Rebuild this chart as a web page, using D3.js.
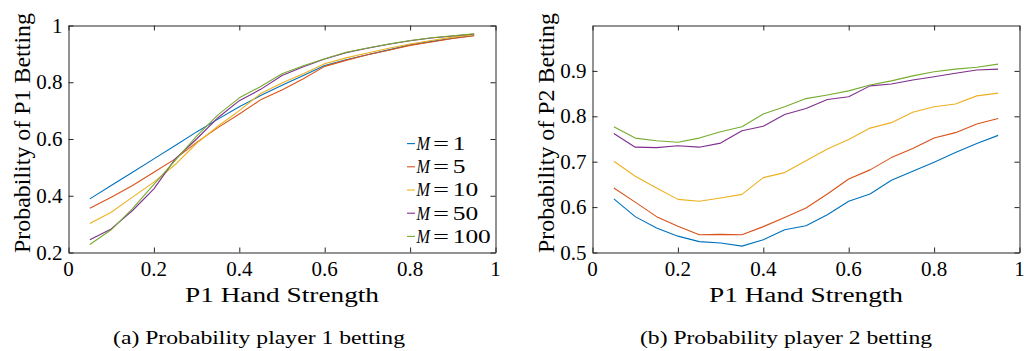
<!DOCTYPE html>
<html><head><meta charset="utf-8"><script src="https://cdn.jsdelivr.net/npm/d3@7"></script></head>
<body style="margin:0">
<svg id="chart" width="1024" height="351"></svg>
<script>
// ---------------- data ----------------
const handStrength = [0.05, 0.10, 0.15, 0.20, 0.25, 0.30, 0.35, 0.40, 0.45, 0.50,
                      0.55, 0.60, 0.65, 0.70, 0.75, 0.80, 0.85, 0.90, 0.95];

const seriesNames = ["1", "5", "10", "50", "100"];
const seriesColors = ["#0072BD", "#D95319", "#EDB120", "#7E2F8E", "#77AC30"];

// (a) Probability of P1 betting
const p1M1   = [0.389, 0.436, 0.483, 0.530, 0.577, 0.625, 0.670, 0.714, 0.753, 0.789, 0.824, 0.859, 0.879, 0.897, 0.914, 0.932, 0.944, 0.955, 0.965];
const p1M5   = [0.356, 0.395, 0.436, 0.483, 0.530, 0.588, 0.640, 0.688, 0.738, 0.773, 0.812, 0.856, 0.877, 0.897, 0.913, 0.930, 0.942, 0.954, 0.964];
const p1M10  = [0.302, 0.342, 0.395, 0.448, 0.510, 0.585, 0.645, 0.700, 0.760, 0.797, 0.830, 0.865, 0.886, 0.903, 0.920, 0.935, 0.947, 0.959, 0.968];
const p1M50  = [0.245, 0.283, 0.348, 0.424, 0.530, 0.600, 0.675, 0.735, 0.775, 0.824, 0.855, 0.882, 0.904, 0.920, 0.934, 0.946, 0.956, 0.963, 0.970];
const p1M100 = [0.228, 0.280, 0.355, 0.440, 0.525, 0.610, 0.685, 0.745, 0.785, 0.830, 0.858, 0.883, 0.906, 0.921, 0.935, 0.947, 0.957, 0.964, 0.971];

// (b) Probability of P2 betting
const p2M1   = [0.618, 0.579, 0.554, 0.536, 0.524, 0.521, 0.514, 0.528, 0.550, 0.559, 0.583, 0.613, 0.629, 0.659, 0.679, 0.699, 0.720, 0.740, 0.758];
const p2M5   = [0.642, 0.611, 0.579, 0.558, 0.539, 0.540, 0.539, 0.557, 0.577, 0.598, 0.629, 0.662, 0.682, 0.709, 0.729, 0.752, 0.764, 0.783, 0.795];
const p2M10  = [0.701, 0.668, 0.642, 0.617, 0.613, 0.620, 0.628, 0.665, 0.676, 0.702, 0.728, 0.749, 0.774, 0.786, 0.809, 0.821, 0.827, 0.845, 0.851];
const p2M50  = [0.762, 0.732, 0.731, 0.735, 0.732, 0.741, 0.768, 0.778, 0.804, 0.817, 0.837, 0.843, 0.867, 0.871, 0.880, 0.887, 0.895, 0.902, 0.904];
const p2M100 = [0.777, 0.752, 0.746, 0.743, 0.752, 0.766, 0.777, 0.805, 0.821, 0.839, 0.847, 0.856, 0.869, 0.878, 0.889, 0.898, 0.904, 0.908, 0.915];

const xTickValues = [0, 0.2, 0.4, 0.6, 0.8, 1];
const xTickLabels = ["0", "0.2", "0.4", "0.6", "0.8", "1"];
const yTickValuesA = [0.2, 0.4, 0.6, 0.8, 1];
const yTickLabelsA = ["0.2", "0.4", "0.6", "0.8", "1"];
const yTickValuesB = [0.5, 0.6, 0.7, 0.8, 0.9];
const yTickLabelsB = ["0.5", "0.6", "0.7", "0.8", "0.9"];

const xLabelText = "P1 Hand Strength";
const yLabelA = "Probability of P1 Betting";
const yLabelB = "Probability of P2 Betting";
const captionA = "(a) Probability player 1 betting";
const captionB = "(b) Probability player 2 betting";

// ---------------- drawing ----------------
const svg = d3.select("#chart");
const AXIS = "#262626";

// every text is appended straight to the svg root, like a plain label
function label(str, size, x, y, anchor) {
  return svg.append("text")
    .style("font-family", '"Times New Roman"')
    .style("font-size", size + "px")
    .attr("x", x).attr("y", y)
    .attr("text-anchor", anchor)
    .attr("fill", "#000")
    .text(str);
}

function panel(opts) {
  const x = d3.scaleLinear().domain([0, 1]).range([opts.left, opts.right]);
  const y = d3.scaleLinear().domain(opts.yDomain).range([opts.bottom, opts.top]);
  const g = svg.append("g");

  const line = d3.line().x((d, i) => x(handStrength[i])).y(d => y(d));
  opts.series.forEach((s, k) => {
    g.append("path").datum(s)
      .attr("fill", "none")
      .attr("stroke", seriesColors[k])
      .attr("stroke-width", 1.1)
      .attr("stroke-linejoin", "round")
      .attr("d", line);
  });

  const tick = 5;
  const styleAxis = sel => {
    sel.select(".domain").attr("stroke", AXIS).attr("stroke-width", 1);
    sel.selectAll(".tick line").attr("stroke", AXIS).attr("stroke-width", 1);
    sel.selectAll("text").remove();
  };

  g.append("g").attr("transform", `translate(0,${opts.bottom})`)
    .call(d3.axisBottom(x).tickValues(xTickValues).tickSizeInner(-tick).tickSizeOuter(0)).call(styleAxis);
  g.append("g").attr("transform", `translate(0,${opts.top})`)
    .call(d3.axisTop(x).tickValues(xTickValues).tickSizeInner(-tick).tickSizeOuter(0)).call(styleAxis);
  g.append("g").attr("transform", `translate(${opts.left},0)`)
    .call(d3.axisLeft(y).tickValues(opts.yTicks).tickSizeInner(-tick).tickSizeOuter(0)).call(styleAxis);
  g.append("g").attr("transform", `translate(${opts.right},0)`)
    .call(d3.axisRight(y).tickValues(opts.yTicks).tickSizeInner(-tick).tickSizeOuter(0)).call(styleAxis);

  // tick labels placed with the scales
  xTickValues.forEach((v, i) => label(xTickLabels[i], 21, x(v), opts.bottom + 23.5, "middle"));
  opts.yTicks.forEach((v, i) => label(opts.yTickLabels[i], 21, opts.left - 6, y(v) + 7, "end"));

  label(xLabelText, 20, (opts.left + opts.right) / 2, 302, "middle")
    .attr("textLength", 194).attr("lengthAdjust", "spacingAndGlyphs");

  label(opts.yLabel, 24, 0, 0, "middle")
    .attr("x", null).attr("y", null)
    .attr("transform", `translate(${opts.left - 38.5},${opts.yLabelCenter}) rotate(-90)`)
    .attr("textLength", 240).attr("lengthAdjust", "spacingAndGlyphs");

  label(opts.caption, 19, opts.captionX, 344, "middle")
    .attr("textLength", 292).attr("lengthAdjust", "spacingAndGlyphs");

  return { x, y, g };
}

const A = panel({
  left: 68.5, right: 495.5, top: 25.5, bottom: 252.5,
  yDomain: [0.2, 1], yTicks: yTickValuesA, yTickLabels: yTickLabelsA,
  series: [p1M1, p1M5, p1M10, p1M50, p1M100],
  yLabel: yLabelA, yLabelCenter: 133, caption: captionA, captionX: 259
});

panel({
  left: 592.5, right: 1019.5, top: 25.5, bottom: 252.5,
  yDomain: [0.5, 1], yTicks: yTickValuesB, yTickLabels: yTickLabelsB,
  series: [p2M1, p2M5, p2M10, p2M50, p2M100],
  yLabel: yLabelB, yLabelCenter: 133, caption: captionB, captionX: 786
});

// legend (panel a)
const legendY = d3.scaleBand().domain(seriesNames).range([132, 248]);
seriesNames.forEach((name, k) => {
  const cy = legendY(name) + legendY.bandwidth() / 2;
  svg.append("line")
    .attr("x1", 407).attr("x2", 415).attr("y1", cy).attr("y2", cy)
    .attr("stroke", seriesColors[k]).attr("stroke-width", 1.1);
  label("M", 19, 416.5, cy + 6.3, "start").style("font-style", "italic")
    .attr("textLength", 13.5).attr("lengthAdjust", "spacingAndGlyphs");
  label("=", 19, 433, cy + 6.3, "start")
    .attr("textLength", 16).attr("lengthAdjust", "spacingAndGlyphs");
  label(name, 19, 452.7, cy + 6.3, "start")
    .attr("textLength", 12.7 * name.length).attr("lengthAdjust", "spacingAndGlyphs");
});
</script>
</body>
</html>
